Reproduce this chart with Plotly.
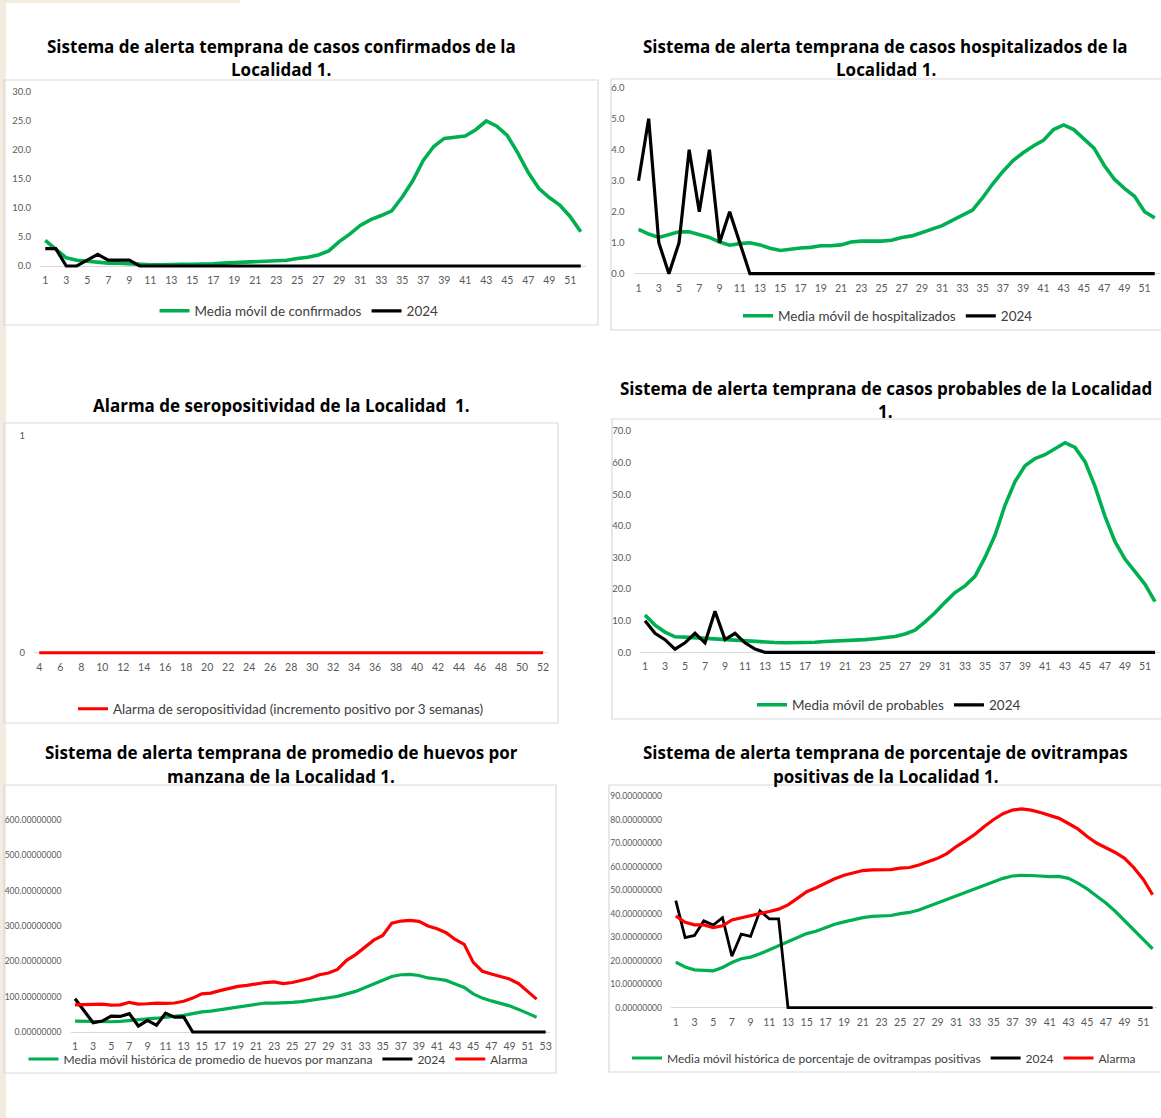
import plotly.graph_objects as go

# ---------------- DATA ----------------
weeks52 = list(range(1, 53))
weeks53 = list(range(1, 54))
weeks_sero = list(range(4, 53))

conf_media = [4.4, 2.9, 1.4, 1.0, 0.8, 0.7, 0.5, 0.5, 0.4, 0.2,
              0.2, 0.2, 0.3, 0.3, 0.3, 0.3, 0.4, 0.5, 0.6, 0.7,
              0.8, 0.9, 0.9, 1.0, 1.3, 1.5, 1.9, 2.6, 4.2, 5.5,
              7.0, 8.0, 8.7, 9.5, 11.9, 14.7, 18.2, 20.6, 22.0, 22.2,
              22.4, 23.5, 25.0, 24.1, 22.5, 19.5, 16.1, 13.4, 11.8, 10.5,
              8.5, 5.9]
conf_2024 = [3, 3, 0, 0, 1, 2, 1, 1, 1, 0,
             0, 0, 0, 0, 0, 0, 0, 0, 0, 0,
             0, 0, 0, 0, 0, 0, 0, 0, 0, 0,
             0, 0, 0, 0, 0, 0, 0, 0, 0, 0,
             0, 0, 0, 0, 0, 0, 0, 0, 0, 0,
             0, 0]

hosp_media = [1.43, 1.28, 1.17, 1.25, 1.35, 1.35, 1.25, 1.17, 1.02, 0.92,
              0.97, 1.0, 0.93, 0.82, 0.75, 0.8, 0.83, 0.85, 0.9, 0.9,
              0.93, 1.02, 1.05, 1.05, 1.05, 1.08, 1.17, 1.22, 1.33, 1.42,
              1.55, 1.72, 1.9, 2.05, 2.45, 2.9, 3.3, 3.65, 3.9, 4.12,
              4.3, 4.65, 4.8, 4.65, 4.35, 4.05, 3.5, 3.05, 2.75, 2.5,
              2.0, 1.8]
hosp_2024 = [3, 5, 1, 0, 1, 4, 2, 4, 1, 2,
             1, 0, 0, 0, 0, 0, 0, 0, 0, 0,
             0, 0, 0, 0, 0, 0, 0, 0, 0, 0,
             0, 0, 0, 0, 0, 0, 0, 0, 0, 0,
             0, 0, 0, 0, 0, 0, 0, 0, 0, 0,
             0, 0]

sero_alarma = [0, 0, 0, 0, 0, 0, 0, 0, 0, 0,
               0, 0, 0, 0, 0, 0, 0, 0, 0, 0,
               0, 0, 0, 0, 0, 0, 0, 0, 0, 0,
               0, 0, 0, 0, 0, 0, 0, 0, 0, 0,
               0, 0, 0, 0, 0, 0, 0, 0, 0]

prob_media = [11.8, 8.6, 6.4, 4.9, 4.8, 4.6, 4.4, 4.1, 3.9, 3.8,
              3.6, 3.4, 3.3, 3.1, 3.0, 3.0, 3.1, 3.2, 3.4, 3.5,
              3.6, 3.8, 4.0, 4.3, 4.7, 5.0, 5.8, 7.0, 9.6, 12.5,
              15.8, 18.9, 21.0, 24.0, 30.0, 37.0, 46.5, 54.0, 59.0, 61.3,
              62.5, 64.3, 66.3, 64.8, 60.3, 52.5, 43.0, 35.0, 29.5, 25.5,
              21.5, 16.0]
prob_2024 = [10, 6, 4, 1, 3, 6, 3, 13, 4, 6,
             3, 1, 0, 0, 0, 0, 0, 0, 0, 0,
             0, 0, 0, 0, 0, 0, 0, 0, 0, 0,
             0, 0, 0, 0, 0, 0, 0, 0, 0, 0,
             0, 0, 0, 0, 0, 0, 0, 0, 0, 0,
             0, 0]

huevos_media = [31, 30, 29, 29, 29, 30, 33, 35, 37, 39,
                41, 43, 47, 52, 57, 59, 63, 68, 72, 75,
                80, 82, 82, 82, 84, 86, 89, 93, 97, 101,
                108, 115, 125, 136, 145, 157, 162, 163, 160, 153,
                150, 146, 136, 126, 108, 96, 88, 81, 74, 64,
                53, 42]
huevos_alarma = [77, 77, 78, 79, 76, 77, 84, 79, 80, 82,
                 81, 82, 87, 96, 108, 110, 117, 123, 129, 132,
                 137, 140, 142, 137, 140, 145, 152, 162, 167, 177,
                 203, 219, 239, 260, 273, 308, 314, 316, 313, 300,
                 292, 281, 262, 248, 197, 172, 164, 158, 150, 137,
                 116, 93]
huevos_2024 = [94, 60, 26, 31, 45, 44, 52, 17, 33, 19,
               53, 42, 43, 0, 0, 0, 0, 0, 0, 0,
               0, 0, 0, 0, 0, 0, 0, 0, 0, 0,
               0, 0, 0, 0, 0, 0, 0, 0, 0, 0,
               0, 0, 0, 0, 0, 0, 0, 0, 0, 0,
               0, 0, 0]

ovi_media = [19.4, 17.3, 16.1, 16.0, 15.7, 17.1, 19.2, 20.8, 21.5, 22.9,
             24.6, 26.3, 28.0, 30.0, 31.5, 32.5, 34.0, 35.5, 36.5, 37.5,
             38.3, 38.8, 39.0, 39.2, 40.0, 40.5, 41.5, 43.0, 44.5, 46.0,
             47.8, 49.0, 50.5, 52.0, 53.5, 55.0, 56.0, 56.3, 56.2, 55.8,
             55.7, 55.8, 55.0, 53.0, 50.5, 47.5, 44.5, 41.0, 37.0, 33.0,
             29.0, 25.0]
ovi_alarma = [39.0, 36.3, 35.2, 35.2, 34.1, 34.8, 37.3, 38.2, 38.8, 39.9,
              40.9, 41.9, 43.7, 46.5, 49.3, 51.0, 53.0, 54.8, 56.3, 57.3,
              58.3, 58.6, 58.8, 58.7, 59.3, 59.6, 60.7, 62.2, 63.5, 65.5,
              68.5, 71.0, 73.7, 77.0, 80.0, 82.5, 84.0, 84.5, 84.0, 83.0,
              81.8, 80.5, 78.3, 76.0, 72.8, 70.0, 68.0, 66.0, 63.5, 59.5,
              54.5, 48.0]
ovi_2024 = [45.5, 29.8, 30.7, 36.9, 35.1, 38.3, 21.9, 31.3, 30.3, 41.2,
            37.8, 37.8, 0, 0, 0, 0, 0, 0, 0, 0,
            0, 0, 0, 0, 0, 0, 0, 0, 0, 0,
            0, 0, 0, 0, 0, 0, 0, 0, 0, 0,
            0, 0, 0, 0, 0, 0, 0, 0, 0, 0,
            0, 0]

ticks_odd_51 = list(range(1, 52, 2))
ticks_odd_53 = list(range(1, 54, 2))
ticks_even_52 = list(range(4, 53, 2))

titles = [
    ["Sistema de alerta temprana de casos confirmados de la", "Localidad 1."],
    ["Sistema de alerta temprana de casos hospitalizados de la", "Localidad 1."],
    ["Alarma de seropositividad de la Localidad  1."],
    ["Sistema de alerta temprana de casos probables de la Localidad", "1."],
    ["Sistema de alerta temprana de promedio de huevos por", "manzana de la Localidad 1."],
    ["Sistema de alerta temprana de porcentaje de ovitrampas", "positivas de la Localidad 1."],
]

# ---------------- LAYOUT HELPERS ----------------
W, H = 1161, 1118
GREEN, BLACK, RED = "#00B050", "#000000", "#FF0000"
FAM = "Lato, Carlito, Liberation Sans, sans-serif"
TICK_FONT = dict(family=FAM, size=10.5, color="#595959")
TITLE_FONT = dict(family="Open Sans, sans-serif", size=17, color="#000000", weight="bold")


def fx(x):
    return x / W


def fy(y):
    return 1 - y / H


# plot areas in pixels: (x0, x1, ytop, ybottom)
areas = {
    1: (40, 586, 92, 266),
    2: (633.5, 1159.8, 87.7, 273.7),
    3: (34, 548.3, 436, 652.7),
    4: (640, 1160, 431, 652.3),
    5: (70.5, 550.2, 820, 1032),
    6: (671.1, 1157.3, 796, 1007.7),
}
yinfo = {
    1: (30, [0, 5, 10, 15, 20, 25, 30], ".1f", 9.5),
    2: (6, [0, 1, 2, 3, 4, 5, 6], ".1f", 9.5),
    3: (1, [0, 1], "d", 9.5),
    4: (70, [0, 10, 20, 30, 40, 50, 60, 70], ".1f", 9.5),
    5: (600, [0, 100, 200, 300, 400, 500, 600], ".8f", 8.6),
    6: (90, [0, 10, 20, 30, 40, 50, 60, 70, 80, 90], ".8f", 8.6),
}
xinfo = {
    1: ([0.5, 52.5], ticks_odd_51),
    2: ([0.5, 52.5], ticks_odd_51),
    3: ([3.5, 52.5], ticks_even_52),
    4: ([0.5, 52.5], ticks_odd_51),
    5: ([0.5, 53.5], ticks_odd_53),
    6: ([0.5, 52.5], ticks_odd_51),
}
PAD = 2.5  # px of extra room below zero so thick lines at 0 are not clipped

fig = go.Figure()


def add(k, x, y, name, color, width=3.2):
    fig.add_trace(go.Scatter(
        x=x, y=y, name=name, mode="lines",
        line=dict(color=color, width=width),
        xaxis="x" if k == 1 else f"x{k}",
        yaxis="y" if k == 1 else f"y{k}",
        legend="legend" if k == 1 else f"legend{k}",
        hoverinfo="skip",
    ))


add(1, weeks52, conf_media, "Media móvil de confirmados", GREEN, 3.6)
add(1, weeks52, conf_2024, "2024", BLACK)
add(2, weeks52, hosp_media, "Media móvil de hospitalizados", GREEN, 3.6)
add(2, weeks52, hosp_2024, "2024", BLACK)
add(3, weeks_sero, sero_alarma, "Alarma de seropositividad (incremento positivo por 3 semanas)", RED, 3)
add(4, weeks52, prob_media, "Media móvil de probables", GREEN, 3.6)
add(4, weeks52, prob_2024, "2024", BLACK)
add(5, weeks52, huevos_media, "Media móvil histórica de promedio de huevos por manzana", GREEN, 3.2)
add(5, weeks53, huevos_2024, "2024", BLACK)
add(5, weeks52, huevos_alarma, "Alarma", RED, 3.2)
add(6, weeks52, ovi_media, "Media móvil histórica de porcentaje de ovitrampas positivas", GREEN, 3.2)
add(6, weeks52, ovi_2024, "2024", BLACK, 2.8)
add(6, weeks52, ovi_alarma, "Alarma", RED, 3.2)

layout = dict(
    width=W, height=H, margin=dict(l=0, r=0, t=0, b=0, autoexpand=False),
    paper_bgcolor="white", plot_bgcolor="rgba(0,0,0,0)",
    showlegend=True,
)

for k in range(1, 7):
    x0, x1, yt, yb = areas[k]
    ymax, yticks, fmt, yfs = yinfo[k]
    xr, xt = xinfo[k]
    ymin = -PAD * ymax / (yb - yt)
    xa = dict(
        domain=[fx(x0), fx(x1)], range=xr, tickmode="array", tickvals=xt,
        showgrid=False, zeroline=False, showline=False, ticks="",
        tickfont=TICK_FONT, anchor="y" if k == 1 else f"y{k}",
        fixedrange=True, ticklabelstandoff=4,
    )
    ya = dict(
        domain=[fy(yb + PAD), fy(yt)], range=[ymin, ymax], tickmode="array",
        tickvals=yticks, tickformat=fmt, showgrid=False, zeroline=True,
        zerolinecolor="#d9d9d9", zerolinewidth=1, showline=False, ticks="",
        tickfont=dict(TICK_FONT, size=yfs), anchor="x" if k == 1 else f"x{k}",
        fixedrange=True, ticklabelstandoff=8,
    )
    layout["xaxis" if k == 1 else f"xaxis{k}"] = xa
    layout["yaxis" if k == 1 else f"yaxis{k}"] = ya

# legend centre (px) and font size
legend_pos = {1: (299, 311, 13.5), 2: (888, 316, 13.5), 3: (281, 709, 13.5),
              4: (889, 705, 13.5), 5: (278, 1059, 12), 6: (884, 1058, 12)}
for k, (lx, ly, lfs) in legend_pos.items():
    layout["legend" if k == 1 else f"legend{k}"] = dict(
        x=fx(lx), y=fy(ly), xanchor="center", yanchor="middle",
        orientation="h", font=dict(family=FAM, size=lfs, color="#404040"),
        bgcolor="rgba(0,0,0,0)",
        itemwidth=30, tracegroupgap=0, itemclick=False, itemdoubleclick=False,
    )

shapes = [
    dict(type="rect", xref="paper", yref="paper", x0=0, x1=fx(6), y0=0, y1=1,
         fillcolor="#f3ebe0", line=dict(width=0), layer="below"),
    dict(type="rect", xref="paper", yref="paper", x0=0, x1=fx(240), y0=fy(3), y1=1,
         fillcolor="#f3ebe0", line=dict(width=0), layer="below"),
]
boxes = [(4, 80, 598, 325), (611, 79, 1163, 330), (4, 423, 558, 723),
         (612, 419, 1163, 719), (4, 785, 556, 1073), (609, 785, 1163, 1072)]
for (bx0, by0, bx1, by1) in boxes:
    shapes.append(dict(type="rect", xref="paper", yref="paper",
                       x0=fx(bx0), x1=fx(bx1), y0=fy(by1), y1=fy(by0),
                       line=dict(color="#d9d9d9", width=1.2), fillcolor="rgba(0,0,0,0)",
                       layer="below"))
layout["shapes"] = shapes

title_pos = {1: (281, [46, 70]), 2: (885.5, [46, 70]), 3: (281, [405]),
             4: (885.5, [388, 412]), 5: (281, [752, 776]), 6: (885.5, [752, 776])}
annotations = []
for k, (cx, ys) in title_pos.items():
    for line, yy in zip(titles[k - 1], ys):
        annotations.append(dict(
            text=line, x=fx(cx), y=fy(yy), xref="paper", yref="paper",
            xanchor="center", yanchor="middle", showarrow=False, font=TITLE_FONT,
        ))
layout["annotations"] = annotations

fig.update_layout(**layout)
fig.write_html(
    "out.html",
    config={"displayModeBar": False},
    post_script="document.body.style.margin='0';document.body.style.overflow='hidden';",
)
